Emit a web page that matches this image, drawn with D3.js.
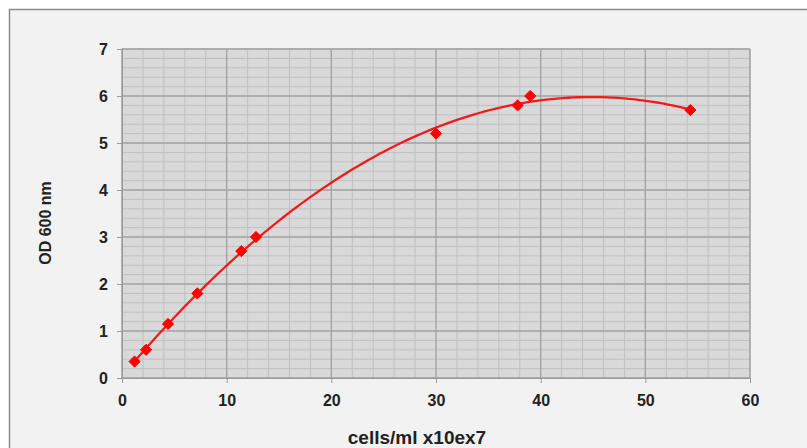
<!DOCTYPE html>
<html><head><meta charset="utf-8">
<script src="https://cdn.jsdelivr.net/npm/d3@7"></script>
<style>
html,body{margin:0;padding:0;background:#fff;}
svg{display:block;font-family:"Liberation Sans",Arial,sans-serif;}
</style></head>
<body><svg id="c" width="807" height="448"></svg>
<script>
// Data
const cells = [1.2, 2.3, 4.4, 7.2, 11.4, 12.8, 30.0, 37.8, 39.0, 54.3];
const od    = [0.35, 0.6, 1.15, 1.8, 2.7, 3.0, 5.2, 5.8, 6.0, 5.7];
const xTicks = [0, 10, 20, 30, 40, 50, 60];
const yTicks = [0, 1, 2, 3, 4, 5, 6, 7];
const xTitle = "cells/ml x10ex7";
const yTitle = "OD 600 nm";

const svg = d3.select("#c");
// outer chart frame
svg.append("rect").attr("x",9.5).attr("y",9.5).attr("width",806).attr("height",450)
  .attr("fill","#f2f2f2").attr("stroke","#8c8c8c").attr("stroke-width",1.5);

const L=122, R=750, T=49, B=378;
const x = d3.scaleLinear().domain([0,60]).range([L,R]);
const y = d3.scaleLinear().domain([0,7]).range([B,T]);

const g = svg.append("g");
g.append("rect").attr("x",L).attr("y",T).attr("width",R-L).attr("height",B-T).attr("fill","#d9d9d9");

// minor grid
d3.range(0,60.01,2).forEach(v=>{ if(v%10!==0) g.append("line").attr("x1",x(v)).attr("x2",x(v)).attr("y1",T).attr("y2",B).attr("stroke","#c0c0c0").attr("stroke-width",1); });
d3.range(0,7.01,0.2).forEach(v=>{ const r=Math.round(v*5); if(r%5!==0) g.append("line").attr("x1",L).attr("x2",R).attr("y1",y(v)).attr("y2",y(v)).attr("stroke","#c0c0c0").attr("stroke-width",1); });
// major grid
xTicks.forEach(v=> g.append("line").attr("x1",x(v)).attr("x2",x(v)).attr("y1",T).attr("y2",B).attr("stroke","#a0a0a0").attr("stroke-width",1.3));
yTicks.forEach(v=> g.append("line").attr("x1",L).attr("x2",R).attr("y1",y(v)).attr("y2",y(v)).attr("stroke","#a0a0a0").attr("stroke-width",1.3));
g.append("rect").attr("x",L).attr("y",T).attr("width",R-L).attr("height",B-T).attr("fill","none").attr("stroke","#a8a8a8").attr("stroke-width",1);

// axes
const xa = svg.append("g").attr("transform",`translate(0,${B})`)
  .call(d3.axisBottom(x).tickValues(xTicks).tickSize(5).tickPadding(12).tickFormat(d3.format("d")));
const ya = svg.append("g").attr("transform",`translate(${L},0)`)
  .call(d3.axisLeft(y).tickValues(yTicks).tickSize(5).tickPadding(9).tickFormat(d3.format("d")));
[xa,ya].forEach(a=>{
  a.select(".domain").attr("stroke","#9a9a9a");
  a.selectAll(".tick line").attr("stroke","#9a9a9a");
  a.selectAll("text").attr("fill","#222").attr("font-size",16).attr("font-weight","bold")
   .attr("font-family","Liberation Sans, Arial, sans-serif");
});

// quadratic trendline (least squares from the data, as the spreadsheet trendline)
function polyfit2(xs, ys){
  let S=[0,0,0,0,0], T2=[0,0,0];
  xs.forEach((xv,i)=>{ for(let k=0;k<5;k++) S[k]+=Math.pow(xv,k); for(let k=0;k<3;k++) T2[k]+=ys[i]*Math.pow(xv,k); });
  const A=[[S[0],S[1],S[2],T2[0]],[S[1],S[2],S[3],T2[1]],[S[2],S[3],S[4],T2[2]]];
  for(let i=0;i<3;i++){ for(let j=i+1;j<3;j++){ const f=A[j][i]/A[i][i]; for(let k=i;k<4;k++) A[j][k]-=f*A[i][k]; } }
  const c=[0,0,0];
  for(let i=2;i>=0;i--){ let s=A[i][3]; for(let k=i+1;k<3;k++) s-=A[i][k]*c[k]; c[i]=s/A[i][i]; }
  return c;
}
const coef = polyfit2(cells, od);
const xmin = d3.min(cells), xmax = d3.max(cells);
const trend = d3.range(0,101).map(i=>{ const xv = xmin + (xmax-xmin)*i/100; return [xv, coef[0]+coef[1]*xv+coef[2]*xv*xv]; });
svg.append("path").datum(trend).attr("fill","none").attr("stroke","#ee1c1c").attr("stroke-width",2.3)
  .attr("d", d3.line().x(d=>x(d[0])).y(d=>y(d[1])));

// markers
svg.selectAll(".pt").data(cells.map((c,i)=>[c,od[i]])).enter().append("path")
  .attr("transform",d=>`translate(${x(d[0])},${y(d[1])})`)
  .attr("d", d3.symbol().type(d3.symbolDiamond2).size(80))
  .attr("fill","#ff0000").attr("stroke","#ff0000").attr("stroke-width",1);

// titles
svg.append("text").attr("x",417).attr("y",444).attr("text-anchor","middle")
  .attr("font-size",19).attr("font-weight","bold").attr("fill","#222").text(xTitle);
svg.append("text").attr("transform","translate(51,223) rotate(-90)").attr("text-anchor","middle")
  .attr("font-size",16).attr("font-weight","bold").attr("fill","#222").text(yTitle);
</script></body></html>
